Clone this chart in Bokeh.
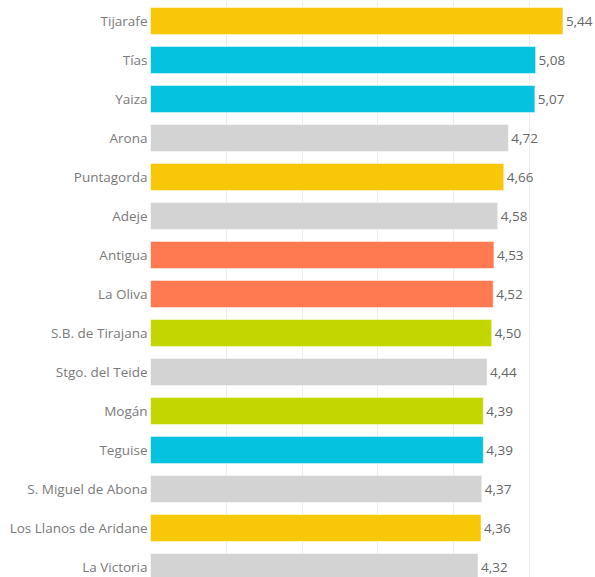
from bokeh.plotting import figure
from bokeh.models import Range1d, FixedTicker, Grid, SingleIntervalTicker, ColumnDataSource
from bokeh.core.properties import value
from bokeh.embed import file_html
from bokeh.resources import INLINE

categories = ["Tijarafe", "Tías", "Yaiza", "Arona", "Puntagorda", "Adeje", "Antigua",
              "La Oliva", "S.B. de Tirajana", "Stgo. del Teide", "Mogán", "Teguise",
              "S. Miguel de Abona", "Los Llanos de Aridane", "La Victoria"]
values = [5.44, 5.08, 5.07, 4.72, 4.66, 4.58, 4.53, 4.52, 4.50, 4.44, 4.39, 4.39, 4.37, 4.36, 4.32]
groups = ["yellow", "cyan", "cyan", "gray", "yellow", "gray", "orange", "orange", "lime",
          "gray", "lime", "cyan", "gray", "yellow", "gray"]

palette = {"yellow": "#F8C808", "cyan": "#05C3DE", "gray": "#D3D3D3",
           "orange": "#FF7A50", "lime": "#C4D600"}

ypos = list(range(len(categories)))
src = ColumnDataSource(dict(
    y=ypos, v=values, cat=categories,
    color=[palette[g] for g in groups],
    label=[f"{v:.2f}".replace(".", ",") for v in values],
))

W, H = 595, 577
pitch = 39.0
top_val = -20.5 / pitch
bot_val = top_val + H / pitch

p = figure(width=W, height=H, output_backend="svg", toolbar_location=None,
           x_range=Range1d(0, 5.87), y_range=Range1d(bot_val, top_val),
           x_axis_location=None, min_border_left=150, min_border_right=0,
           min_border_top=0, min_border_bottom=0)
p.outline_line_color = None
p.background_fill_color = "white"
p.border_fill_color = "white"
for r in list(p.center):
    if isinstance(r, Grid):
        p.center.remove(r)

grid = Grid(dimension=0, ticker=SingleIntervalTicker(interval=1),
            grid_line_color="#ececec", grid_line_width=1)
p.add_layout(grid)

p.hbar(y="y", right="v", left=0, height=27 / pitch, source=src,
       fill_color="color", line_color="white", line_alpha=0.45, line_width=1)

p.text(x="v", y="y", text="label", source=src, x_offset=3,
       text_baseline="middle", text_align="left",
       text_font=value("Open Sans"), text_font_size="13.5px", text_color="#666666")

ax = p.yaxis[0]
ax.ticker = FixedTicker(ticks=ypos)
ax.major_label_overrides = {i: c for i, c in zip(ypos, categories)}
ax.axis_line_color = None
ax.major_tick_line_color = None
ax.minor_tick_line_color = None
ax.major_tick_out = 0
ax.major_label_standoff = 3
ax.major_label_text_font = "Open Sans"
ax.major_label_text_font_size = "13.5px"
ax.major_label_text_color = "#7a7a7a"

open("out.html", "w").write(file_html(p, INLINE))
